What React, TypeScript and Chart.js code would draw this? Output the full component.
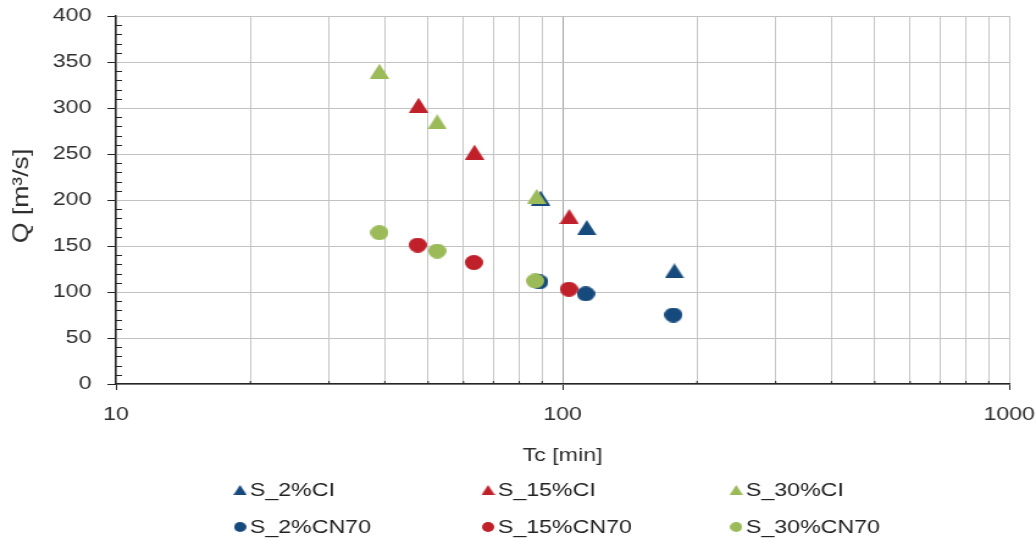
import { useEffect, useRef } from 'react';
import { Chart, registerables } from 'chart.js';

Chart.register(...registerables);

// The drawing is made on a narrower backing canvas and widened with CSS,
// which gives the wide lettering and oval markers of this plot style.
const STRETCH = 1.22;
const WIDTH = 1036;
const HEIGHT = 541;
const IW = Math.round(WIDTH / STRETCH);

const seriesNames = ['S_2%CI', 'S_15%CI', 'S_30%CI', 'S_2%CN70', 'S_15%CN70', 'S_30%CN70'];
const seriesColors = ['#174A7C', '#C0202A', '#9BBB59', '#174A7C', '#C0202A', '#9BBB59'];
const seriesShapes = ['triangle', 'triangle', 'triangle', 'circle', 'circle', 'circle'];

// Tc [min] and Q [m3/s] per series
const tc2CI = [89.3, 113.3, 178];
const q2CI = [202, 170, 123];
const tc15CI = [47.6, 63.5, 103.5];
const q15CI = [303, 252, 182];
const tc30CI = [38.9, 52.4, 87.5];
const q30CI = [340, 285, 204];
const tc2CN = [88.7, 112.7, 177];
const q2CN = [111, 98, 75];
const tc15CN = [47.4, 63.3, 103.3];
const q15CN = [151, 132, 103];
const tc30CN = [38.9, 52.4, 86.8];
const q30CN = [164.5, 144.5, 112];

const xTickValues = [10, 20, 30, 40, 50, 60, 70, 80, 90, 100, 200, 300, 400, 500, 600, 700, 800, 900, 1000];
const xLabelValues = [10, 100, 1000];
const yMin = 0;
const yMax = 400;
const yStep = 50;
const yMinorStep = 10;

const xTitle = 'Tc [min]';
const yTitle = 'Q [m³/s]';

const FONT = "'Liberation Sans', Arial, sans-serif";
const AXIS = '#262626';
const TEXT = '#2e2e2e';

function triangleImage(color: string, w: number, h: number) {
  const c = document.createElement('canvas');
  c.width = w;
  c.height = h;
  const g = c.getContext('2d')!;
  g.fillStyle = color;
  g.beginPath();
  g.moveTo(w / 2, 0);
  g.lineTo(w, h);
  g.lineTo(0, h);
  g.closePath();
  g.fill();
  return c;
}

function circleImage(color: string, d: number) {
  const c = document.createElement('canvas');
  c.width = d;
  c.height = d;
  const g = c.getContext('2d')!;
  g.fillStyle = color;
  g.beginPath();
  g.arc(d / 2, d / 2, d / 2, 0, Math.PI * 2);
  g.fill();
  return c;
}

function marker(i: number, small: boolean) {
  const color = seriesColors[i];
  if (seriesShapes[i] === 'triangle') {
    return small ? triangleImage(color, 11, 10) : triangleImage(color, 16, 15);
  }
  return small ? circleImage(color, 10) : circleImage(color, 15);
}

function pairs(xs: number[], ys: number[]) {
  return xs.map((x, i) => ({ x, y: ys[i] }));
}

// Short inside ticks: every 10 on Q, every sub-decade step on Tc
const minorTicks = {
  id: 'minorTicks',
  beforeDatasetsDraw(chart: any) {
    const { ctx, scales } = chart;
    const x = scales.x;
    const y = scales.y;
    ctx.save();
    ctx.strokeStyle = AXIS;
    ctx.lineWidth = 1;
    for (let v = yMin; v <= yMax; v += yMinorStep) {
      if (v % yStep === 0) continue;
      const py = Math.round(y.getPixelForValue(v)) + 0.5;
      ctx.beginPath();
      ctx.moveTo(x.left, py);
      ctx.lineTo(x.left + 5, py);
      ctx.stroke();
    }
    for (const v of xTickValues) {
      if (xLabelValues.includes(v)) continue;
      const px = x.getPixelForValue(v);
      ctx.beginPath();
      ctx.moveTo(px, y.bottom);
      ctx.lineTo(px, y.bottom - 3);
      ctx.stroke();
    }
    ctx.restore();
  },
};

// Rotated Q title, drawn with a longer letter run than the tick labels
const qTitle = {
  id: 'qTitle',
  afterDraw(chart: any) {
    const { ctx, scales } = chart;
    const y = scales.y;
    ctx.save();
    ctx.translate(22 / STRETCH, (y.top + y.bottom) / 2 - 4);
    ctx.rotate(-Math.PI / 2);
    ctx.scale(1.4, 1);
    ctx.font = `19px ${FONT}`;
    ctx.fillStyle = TEXT;
    ctx.textAlign = 'center';
    ctx.textBaseline = 'middle';
    ctx.fillText(yTitle, 0, 0);
    ctx.restore();
  },
};

// Two-row, three-column legend under the axis title
const gridLegend = {
  id: 'gridLegend',
  afterDraw(chart: any) {
    const { ctx } = chart;
    const col0 = 240 / STRETCH;
    const colGap = 248 / STRETCH;
    const rows = [490, 527];
    ctx.save();
    ctx.font = `19px ${FONT}`;
    ctx.fillStyle = '#222222';
    ctx.textBaseline = 'middle';
    ctx.textAlign = 'left';
    chart.data.datasets.forEach((ds: any, i: number) => {
      const cx = col0 + (i % 3) * colGap;
      const cy = rows[Math.floor(i / 3)];
      const img = ds.legendMarker as HTMLCanvasElement;
      ctx.drawImage(img, cx - img.width / 2, cy - img.height / 2);
      ctx.fillText(ds.label, cx + 8, cy + 1);
    });
    ctx.restore();
  },
};

export default function App() {
  const canvasRef = useRef<HTMLCanvasElement | null>(null);

  useEffect(() => {
    document.body.style.margin = '0';
    const canvas = canvasRef.current;
    if (!canvas) return;

    const values = [
      pairs(tc2CI, q2CI),
      pairs(tc15CI, q15CI),
      pairs(tc30CI, q30CI),
      pairs(tc2CN, q2CN),
      pairs(tc15CN, q15CN),
      pairs(tc30CN, q30CN),
    ];
    const drawOrder = [2, 1, 0, 2, 1, 0];

    const datasets = values.map((data, i) => ({
      label: seriesNames[i],
      data,
      pointStyle: marker(i, false),
      legendMarker: marker(i, true),
      pointRadius: 7,
      pointHoverRadius: 7,
      backgroundColor: seriesColors[i],
      borderColor: seriesColors[i],
      showLine: false,
      order: drawOrder[i],
    }));

    const chart = new Chart(canvas, {
      type: 'scatter',
      data: { datasets: datasets as any },
      options: {
        animation: false,
        responsive: false,
        devicePixelRatio: 1,
        events: [],
        layout: { padding: { left: 0, top: 16, right: IW - 1009 / STRETCH, bottom: 71 } },
        plugins: {
          legend: { display: false },
          tooltip: { enabled: false },
        },
        scales: {
          x: {
            type: 'logarithmic',
            position: 'bottom',
            min: 10,
            max: 1000,
            afterBuildTicks: (s: any) => {
              s.ticks = xTickValues.map((v) => ({ value: v, major: xLabelValues.includes(v) }));
            },
            afterFit: (s: any) => {
              s.height = 86;
              s.paddingLeft = 0;
              s.paddingRight = 0;
            },
            ticks: {
              autoSkip: false,
              maxRotation: 0,
              padding: 13,
              color: TEXT,
              font: { family: FONT, size: 19 },
              callback: (v: any) => (xLabelValues.includes(Number(v)) ? String(v) : ''),
            },
            grid: {
              color: (c: any) => (c.tick && c.tick.value === 100 ? '#a3a3a3' : '#c6c6c6'),
              lineWidth: 1,
              tickLength: 6,
              tickColor: (c: any) =>
                c.tick && xLabelValues.includes(c.tick.value) ? AXIS : 'rgba(0,0,0,0)',
            },
            border: { color: AXIS, width: 1.5 },
            title: {
              display: true,
              text: xTitle,
              color: TEXT,
              font: { family: FONT, size: 19 },
              padding: { top: 0, bottom: 3 },
            },
          },
          y: {
            type: 'linear',
            min: yMin,
            max: yMax,
            afterFit: (s: any) => {
              s.width = 95;
              s.paddingTop = 0;
              s.paddingBottom = 0;
            },
            ticks: {
              stepSize: yStep,
              padding: 13,
              color: TEXT,
              font: { family: FONT, size: 19 },
            },
            grid: {
              color: '#c2c2c2',
              lineWidth: 1,
              tickLength: 7,
              tickColor: AXIS,
            },
            border: { color: AXIS, width: 1.5 },
            title: { display: false, text: yTitle },
          },
        },
      },
      plugins: [minorTicks, qTitle, gridLegend],
    });

    return () => chart.destroy();
  }, []);

  return (
    <div style={{ width: WIDTH, height: HEIGHT, position: 'relative', background: '#ffffff' }}>
      <canvas
        ref={canvasRef}
        width={IW}
        height={HEIGHT}
        style={{ width: `${WIDTH}px`, height: `${HEIGHT}px`, display: 'block' }}
      />
    </div>
  );
}
